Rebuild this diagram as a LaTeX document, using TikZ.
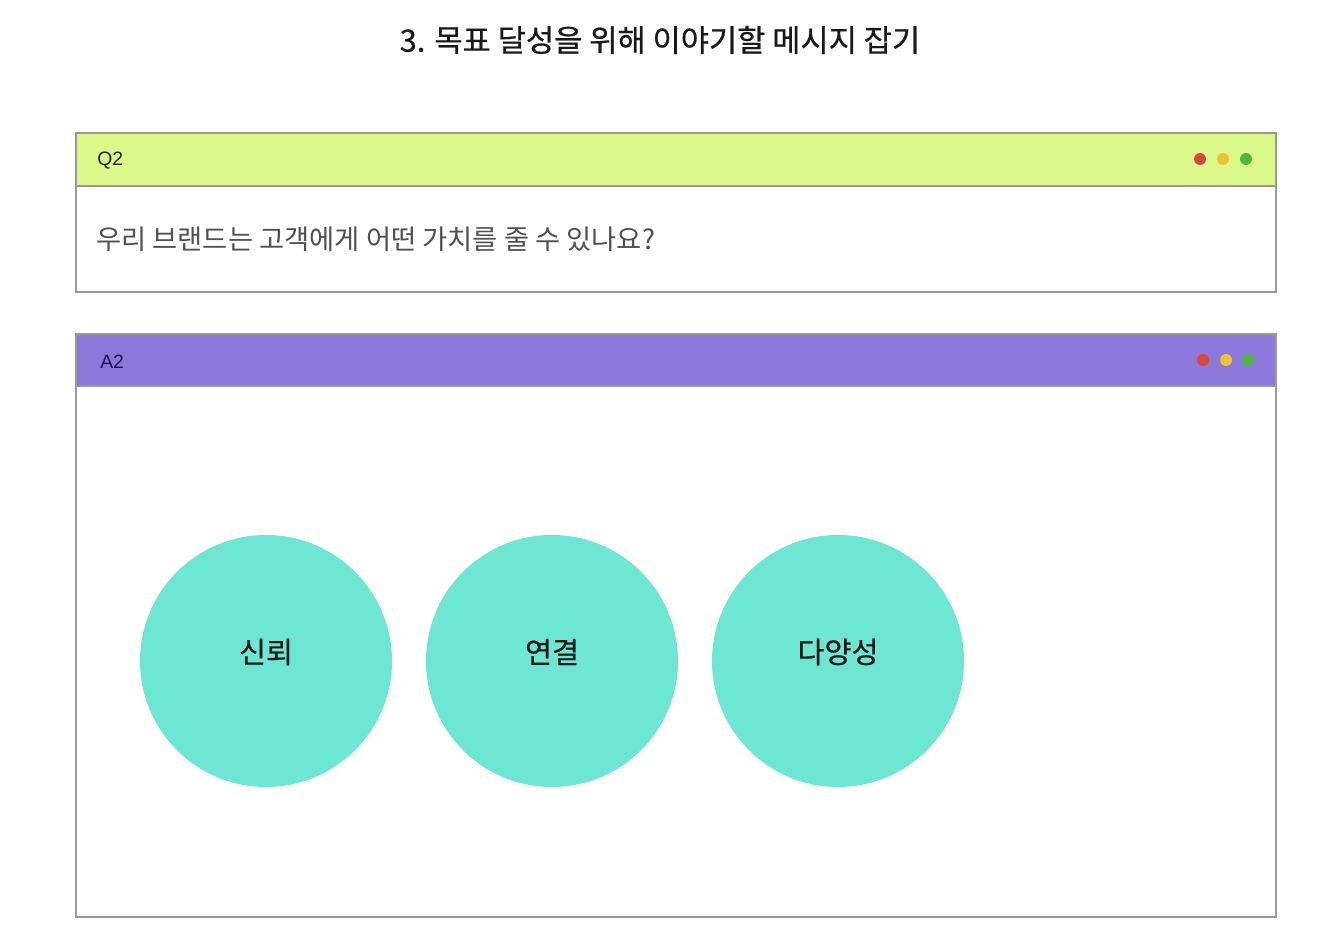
\documentclass[tikz,border=0pt]{standalone}
\usepackage{fontspec}
\setmainfont{Noto Sans CJK KR}
\newfontfamily\medf[FakeBold=0.6]{Noto Sans CJK KR}
\newfontfamily\latinf{Liberation Sans}
\definecolor{limehdr}{HTML}{DBF98A}
\definecolor{purphdr}{HTML}{8B78DA}
\definecolor{frame}{HTML}{9A9A9A}
\definecolor{dotred}{HTML}{D9463A}
\definecolor{dotyel}{HTML}{F2C037}
\definecolor{dotgrn}{HTML}{4CB83A}
\definecolor{teal}{HTML}{6EE6D4}
\definecolor{navy}{HTML}{1E1450}
\definecolor{bodytxt}{HTML}{505050}
\tikzset{
  px/.style={x=0.75pt,y=-0.75pt},
  panel/.style={draw=frame,line width=0.9pt},
  dot/.style={circle,inner sep=0pt,minimum size=9pt},
  bubble/.style={circle,fill=teal,inner sep=0pt,minimum size=189pt},
  blabel/.style={font=\medf\fontsize{22}{26}\selectfont,text=black!90},
  tag/.style={anchor=west,inner sep=0pt,font=\latinf\fontsize{14.5}{17}\selectfont}
}
\begin{document}
\begin{tikzpicture}[px]
\useasboundingbox[fill=white] (0,0) rectangle (1336,952);
\node[font=\medf\fontsize{23}{27}\selectfont,text=black!90] (title) at (660,40) {3. 목표 달성을 위해 이야기할 메시지 잡기};
% Q2 panel
\draw[panel,fill=limehdr] (76,133) rectangle (1276,186);
\draw[panel,fill=white] (76,186) rectangle (1276,292);
\node[tag,text=black!85] (q2) at (97,161) {Q2};
\node[dot,fill=dotred] (qr) at (1200,159) {};
\node[dot,fill=dotyel] (qy) at (1223,159) {};
\node[dot,fill=dotgrn] (qg) at (1246,159) {};
\node[anchor=west,inner sep=0pt,font=\fontsize{20.5}{24}\selectfont,text=bodytxt] (qtext) at (96,239) {우리 브랜드는 고객에게 어떤 가치를 줄 수 있나요?};
% A2 panel
\draw[panel,fill=purphdr] (76,334) rectangle (1276,386);
\draw[panel,fill=white] (76,386) rectangle (1276,917);
\node[tag,text=navy] (a2) at (100,362) {A2};
\node[dot,fill=dotred] (ar) at (1203,360) {};
\node[dot,fill=dotyel] (ay) at (1226,360) {};
\node[dot,fill=dotgrn] (ag) at (1248,360) {};
\node[bubble] (c1) at (266,661) {};
\node[bubble] (c2) at (552,661) {};
\node[bubble] (c3) at (838,661) {};
\node[blabel] (l1) at (266,652) {신뢰};
\node[blabel] (l2) at (552,652) {연결};
\node[blabel] (l3) at (838,652) {다양성};
\end{tikzpicture}
\end{document}
